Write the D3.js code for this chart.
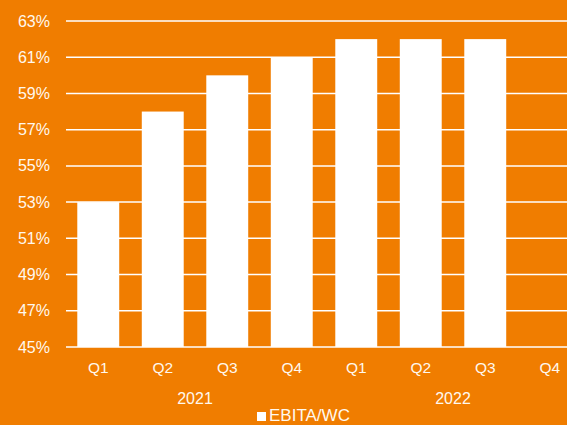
<!DOCTYPE html>
<html>
<head>
<meta charset="utf-8">
<script src="https://cdn.jsdelivr.net/npm/d3@7"></script>
<style>
  body { margin: 0; background: #f07d00; }
  text { font-family: "Liberation Sans", Arial, sans-serif; fill: #fff8ee; }
</style>
</head>
<body>
<div id="chart"></div>
<script>
const quarters = ["Q1", "Q2", "Q3", "Q4", "Q1", "Q2", "Q3", "Q4"];
const years = ["2021", "2022"];
const values = [53, 58, 60, 61, 62, 62, 62, null];
const yTicks = [45, 47, 49, 51, 53, 55, 57, 59, 61, 63];

let width = 567,
  height = 425,
  margin = ({ top: 21, right: 0, bottom: 78, left: 66 });

const svg = d3.select("#chart")
  .append("svg")
  .attr("width", width)
  .attr("height", height);

svg.append("rect")
  .attr("width", width)
  .attr("height", height)
  .attr("fill", "#f07d00");

let keys = quarters.map((q, i) => i);

// band runs a bit past the right edge, like the original
let x = d3.scaleBand()
  .domain(keys)
  .range([margin.left, margin.left + 64.5 * 8])
  .paddingInner(0.35)
  .paddingOuter(0.175);

let y = d3.scaleLinear()
  .domain([45, 63])
  .range([height - margin.bottom, margin.top]);

// grid lines
svg.append("g")
  .selectAll("line")
  .data(yTicks)
  .join("line")
  .attr("x1", margin.left)
  .attr("x2", width)
  .attr("y1", d => y(d))
  .attr("y2", d => y(d))
  .attr("stroke", "#fff")
  .attr("stroke-width", 1.5);

// bars
svg.append("g")
  .selectAll("rect")
  .data(values.map((v, i) => ({ i, v })).filter(d => d.v != null))
  .join("rect")
  .attr("x", d => x(d.i))
  .attr("width", x.bandwidth())
  .attr("y", d => y(d.v))
  .attr("height", d => y(45) - y(d.v))
  .attr("fill", "#fff");

// y labels
svg.append("g")
  .selectAll("text")
  .data(yTicks)
  .join("text")
  .attr("x", 50)
  .attr("y", d => y(d))
  .attr("dy", "0.35em")
  .attr("text-anchor", "end")
  .attr("font-size", 16)
  .text(d => d + "%");

// quarter labels
svg.append("g")
  .selectAll("text")
  .data(keys)
  .join("text")
  .attr("x", d => x(d) + x.bandwidth() / 2)
  .attr("y", 373)
  .attr("text-anchor", "middle")
  .attr("font-size", 15.5)
  .text(d => quarters[d]);

// year labels
svg.append("g")
  .selectAll("text")
  .data(years)
  .join("text")
  .attr("x", (d, i) => (x(i * 4) + x(i * 4 + 3) + x.bandwidth()) / 2)
  .attr("y", 404)
  .attr("text-anchor", "middle")
  .attr("font-size", 16)
  .text(d => d);

// legend
svg.append("rect")
  .attr("x", 257)
  .attr("y", 412)
  .attr("width", 9)
  .attr("height", 9)
  .attr("fill", "#fff");

svg.append("text")
  .attr("x", 269)
  .attr("y", 421)
  .attr("font-size", 17)
  .text("EBITA/WC");
</script>
</body>
</html>
